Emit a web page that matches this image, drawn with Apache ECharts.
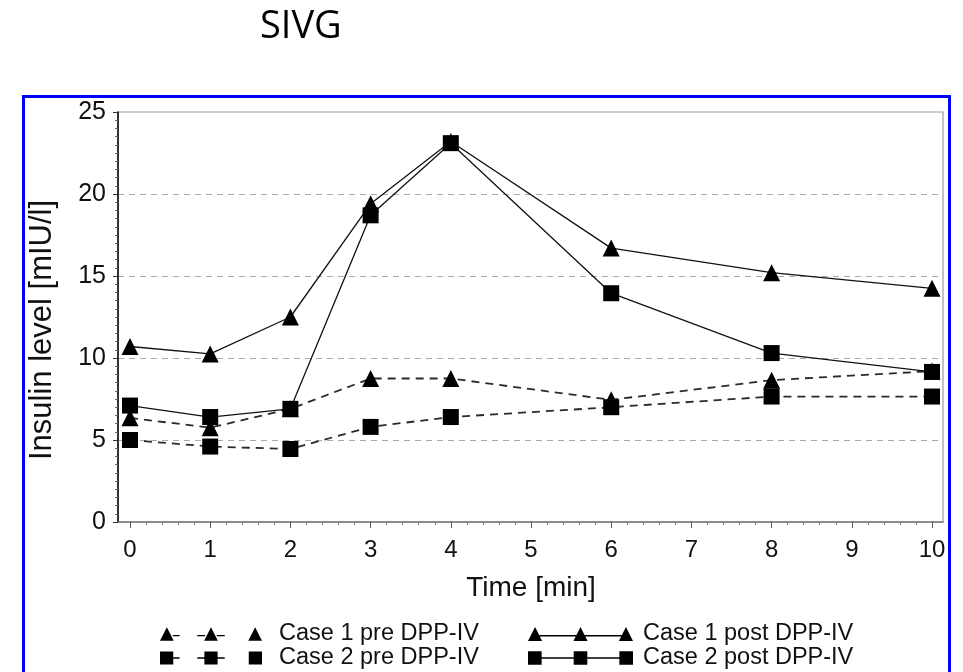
<!DOCTYPE html>
<html>
<head>
<meta charset="utf-8">
<script src="https://cdn.jsdelivr.net/npm/echarts@6/dist/echarts.min.js"></script>
<style>html,body{margin:0;padding:0;background:#fff;}#c{width:963px;height:672px;}</style>
</head>
<body>
<div id="c"></div>
<script>
// ---- data ----
var timeMin = [0, 1, 2, 3, 4, 6, 8, 10];
var case1Pre  = [6.35, 5.75, 6.9, 8.75, 8.75, 7.45, 8.65, 9.2];
var case2Pre  = [5.0, 4.6, 4.45, 5.8, 6.4, 7.0, 7.65, 7.65];
var case1Post = [10.7, 10.25, 12.5, 19.4, 23.2, 16.7, 15.2, 14.25];
var case2Post = [7.1, 6.4, 6.9, 18.7, 23.1, 13.95, 10.3, 9.15];
var seriesNames = ['Case 1 pre DPP-IV', 'Case 2 pre DPP-IV', 'Case 1 post DPP-IV', 'Case 2 post DPP-IV'];
var yTicks = {min: 0, max: 25, step: 5};
var xTicks = {min: 0, max: 10, step: 1};

// ---- legend icon shapes ----
var triSolid = 'path://M0 14L7 0L14 14ZM45 14L52 0L59 14ZM90 14L97 0L104 14ZM7 8L97 8L97 9.4L7 9.4Z';
var triDash  = 'path://M0 14L7 0L14 14ZM45 14L52 0L59 14ZM90 14L97 0L104 14ZM13 8L20 8L20 9.4L13 9.4ZM38 8L46 8L46 9.4L38 9.4ZM58 8L66 8L66 9.4L58 9.4Z';
var sqSolid  = 'path://M0 0.5L13.5 0.5L13.5 14L0 14ZM45.25 0.5L58.75 0.5L58.75 14L45.25 14ZM90.5 0.5L104 0.5L104 14L90.5 14ZM7 6.6L97 6.6L97 8L7 8Z';
var sqDash   = 'path://M0 0.5L13.5 0.5L13.5 14L0 14ZM45.25 0.5L58.75 0.5L58.75 14L45.25 14ZM90.5 0.5L104 0.5L104 14L90.5 14ZM13 6.6L20 6.6L20 8L13 8ZM38 6.6L46 6.6L46 8L38 8ZM58 6.6L66 6.6L66 8L58 8Z';

var FONT = '"Liberation Sans", Arial, sans-serif';

function pairs(vals) { return timeMin.map(function (t, i) { return [t, vals[i]]; }); }

function mkSeries(name, vals, symbol, size, dashed, z) {
  return {
    name: name, type: 'line', xAxisIndex: 1, yAxisIndex: 1,
    data: pairs(vals),
    symbol: symbol, symbolSize: size,
    showSymbol: true,
    z: z,
    lineStyle: dashed ? {color: '#2a2a2a', width: 1.8, type: [8, 6]} : {color: '#111', width: 1.3},
    itemStyle: {color: '#000', borderWidth: 0},
    emphasis: {disabled: true}
  };
}

function mkLegend(name, icon, left, top, width, gap) {
  return {
    orient: 'horizontal', left: left, top: top, padding: 0,
    itemWidth: width, itemHeight: 15, selectedMode: false,
    itemStyle: {borderWidth: 0},
    textStyle: {fontFamily: FONT, fontSize: 23.5, color: '#111', padding: [0, 0, 0, gap]},
    data: [{name: name, icon: icon}]
  };
}

var chart = echarts.init(document.getElementById('c'), null, {renderer: 'canvas'});
var option = {
  animation: false,
  backgroundColor: '#fff',
  title: {
    text: 'SIVG', left: 255, top: 3,
    textStyle: {fontFamily: '"Open Sans", sans-serif', fontSize: 38, fontWeight: 'normal', color: '#000'}
  },
  graphic: [{
    type: 'rect', silent: true, z: -10,
    shape: {x: 23.5, y: 96.5, width: 926, height: 640},
    style: {fill: 'none', stroke: '#0000ff', lineWidth: 3}
  }],
  grid: [
    {left: 118, right: 20, top: 112, bottom: 150, show: true, borderColor: '#999', borderWidth: 1.2, backgroundColor: 'transparent'},
    {left: 130, right: 31, top: 112, bottom: 150}
  ],
  xAxis: [
    {gridIndex: 0, type: 'value', min: 0, max: 1,
     axisLine: {show: true, onZero: false, lineStyle: {color: '#777', width: 1.5}},
     axisTick: {show: false}, axisLabel: {show: false}, splitLine: {show: false}},
    {gridIndex: 1, type: 'value', min: xTicks.min, max: xTicks.max, interval: xTicks.step,
     name: 'Time [min]', nameLocation: 'middle', nameGap: 52,
     nameTextStyle: {fontFamily: FONT, fontSize: 28, color: '#111'},
     axisLine: {show: false, onZero: false},
     axisTick: {show: true, length: 6, lineStyle: {color: '#555', width: 1}},
     minorTick: {show: true, splitNumber: 5, length: 3, lineStyle: {color: '#777', width: 1}},
     axisLabel: {margin: 16, fontFamily: FONT, fontSize: 24, color: '#111'},
     splitLine: {show: false}}
  ],
  yAxis: [
    {gridIndex: 0, type: 'value', min: yTicks.min, max: yTicks.max, interval: yTicks.step,
     name: 'Insulin level [mIU/l]', nameLocation: 'middle', nameGap: 60,
     nameTextStyle: {fontFamily: FONT, fontSize: 31, color: '#111', padding: [0, 26, 0, 0]},
     axisLine: {show: true, onZero: false, lineStyle: {color: '#000', width: 1.5}},
     axisTick: {show: true, length: 5, lineStyle: {color: '#333', width: 1}},
     minorTick: {show: true, splitNumber: 10, length: 3, lineStyle: {color: '#666', width: 1}},
     axisLabel: {margin: 12, fontFamily: FONT, fontSize: 25, color: '#111'},
     splitLine: {show: true, showMinLine: false, showMaxLine: false, lineStyle: {color: '#aaa', width: 1.2, type: [6, 5]}}},
    {gridIndex: 1, type: 'value', min: yTicks.min, max: yTicks.max, show: false, splitLine: {show: false}}
  ],
  legend: [
    mkLegend(seriesNames[0], triDash, 160, 622, 102, 12),
    mkLegend(seriesNames[1], sqDash, 160, 646, 102, 12),
    mkLegend(seriesNames[2], triSolid, 528, 622, 105, 5),
    mkLegend(seriesNames[3], sqSolid, 528, 646, 105, 5)
  ],
  series: [
    mkSeries(seriesNames[0], case1Pre, 'triangle', 17, true, 2),
    mkSeries(seriesNames[1], case2Pre, 'rect', 16, true, 3),
    mkSeries(seriesNames[2], case1Post, 'triangle', 17, false, 4),
    mkSeries(seriesNames[3], case2Post, 'rect', 16, false, 5)
  ]
};
chart.setOption(option);
</script>
</body>
</html>
